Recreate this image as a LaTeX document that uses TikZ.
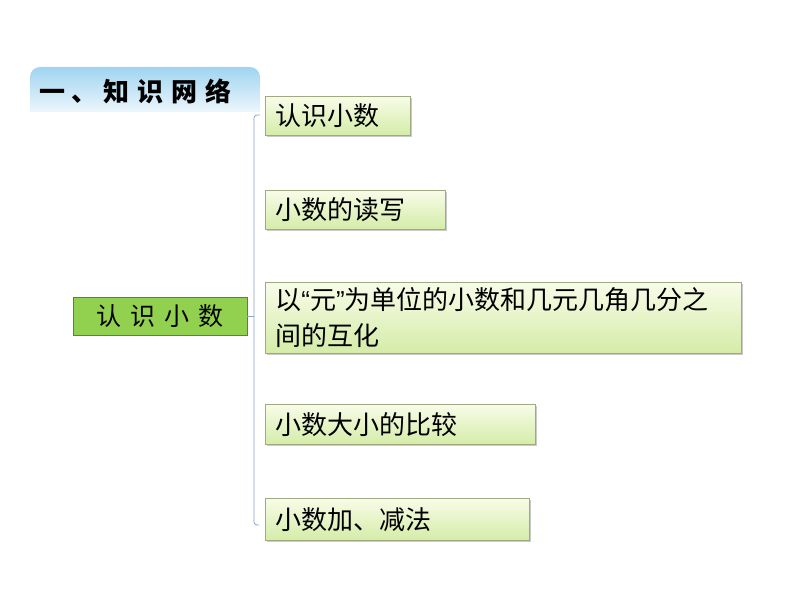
\documentclass[tikz,border=0pt]{standalone}
\usepackage{fontspec}
\newfontfamily\cjk{Noto Sans CJK SC}
\newfontfamily\qfont{Liberation Sans}
\usetikzlibrary{shadows}
\definecolor{bannerTop}{RGB}{160,212,240}
\definecolor{bannerBot}{RGB}{236,246,252}
\definecolor{mainFill}{RGB}{146,208,80}
\definecolor{mainEdge}{RGB}{170,90,60}
\definecolor{boxTop}{RGB}{248,252,232}
\definecolor{boxBot}{RGB}{212,236,168}
\definecolor{boxEdge}{RGB}{160,170,130}
\definecolor{linkCol}{RGB}{140,160,200}
\tikzset{
  topicbox/.style={draw=boxEdge, line width=0.8pt, top color=boxTop, bottom color=boxBot,
    drop shadow={shadow xshift=1.5pt, shadow yshift=-1.5pt, fill=black!35, opacity=0.6},
    anchor=north west, inner sep=0pt, font=\cjk\fontsize{26}{36}\selectfont, align=left, text=black},
  mainbox/.style={draw=mainEdge, line width=0.8pt, fill=mainFill, inner sep=0pt,
    font=\cjk\fontsize{25}{30}\selectfont, text=black},
  linkline/.style={draw=linkCol, line width=0.8pt}
}
\begin{document}
\begin{tikzpicture}[x=1pt,y=-1pt]
\useasboundingbox (0,0) rectangle (794,596);
% banner
\path[top color=bannerTop, bottom color=bannerBot, draw=none]
  (30,112) -- (30,77) arc[start angle=180,end angle=270,radius=10] -- (250,67)
  arc[start angle=270,end angle=360,radius=10] -- (260,112) -- cycle;
\node[font=\cjk\bfseries\fontsize{26}{30}\selectfont, anchor=west] (title) at (36,91)
  {一\hspace{6pt}、\hspace{6pt}知\hspace{8pt}识\hspace{8pt}网\hspace{8pt}络};
% main node
\node[mainbox, minimum width=174pt, minimum height=38pt] (main) at (160,316)
  {认\hspace{9pt}识\hspace{9pt}小\hspace{9pt}数};
% topic boxes
\node[topicbox, minimum width=145pt, minimum height=39pt, text width=135pt] (b1) at (265,96) {\hspace*{5pt}认识小数};
\node[topicbox, minimum width=180pt, minimum height=39pt, text width=170pt] (b2) at (265,190) {\hspace*{5pt}小数的读写};
\node[topicbox, minimum width=476pt, minimum height=71pt, text width=466pt] (b3) at (265,282)
  {\hspace*{5pt}以{\qfont “}元{\qfont ”}为单位的小数和几元几角几分之\\\hspace*{5pt}间的互化};
\node[topicbox, minimum width=270pt, minimum height=40pt, text width=260pt] (b4) at (265,404) {\hspace*{5pt}小数大小的比较};
\node[topicbox, minimum width=264pt, minimum height=42pt, text width=254pt] (b5) at (265,498) {\hspace*{5pt}小数加、减法};
% bracket
\coordinate (mt) at (254,316);
\draw[linkline] (260,115) -- (257,115) arc[start angle=270,end angle=180,radius=3] -- (254,522)
  arc[start angle=180,end angle=90,radius=3] -- (259,525);
\draw[linkline] (main.east) -- (mt);
\end{tikzpicture}
\end{document}
